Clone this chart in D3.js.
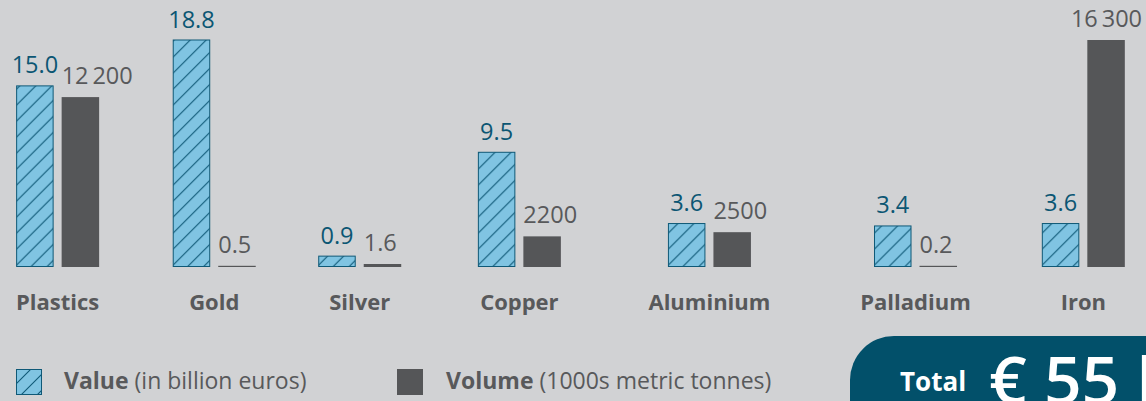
<!DOCTYPE html>
<html>
<head>
<meta charset="utf-8">
<script src="https://d3js.org/d3.v7.min.js"></script>
<style>
  html, body { margin: 0; padding: 0; background: #d1d2d4; }
  svg { display: block; font-family: "Open Sans", Lato, sans-serif; }
</style>
</head>
<body>
<svg id="chart" width="1146" height="401"></svg>
<script>
// Chart data
const categories = ['Plastics', 'Gold', 'Silver', 'Copper', 'Aluminium', 'Palladium', 'Iron'];
const valueBn = [15.0, 18.8, 0.9, 9.5, 3.6, 3.4, 3.6];          // billion euros
const volumeKt = [12200, 0.5, 1.6, 2200, 2500, 0.2, 16300];     // 1000s metric tonnes
const totalLabel = '€ 55 billion';

const W = 1146, H = 401;
const baseY = 267, topY = 40;
const colors = {
  bg: '#d1d2d4',
  valueFill: '#80c4e2',
  valueStroke: '#0f5977',
  valueText: '#0b5673',
  volume: '#555658',
  text: '#58595b',
  box: '#02506a'
};

const svg = d3.select('#chart');
svg.append('rect').attr('width', W).attr('height', H).attr('fill', colors.bg);

// hatch pattern for value bars
const defs = svg.append('defs');
const pat = defs.append('pattern')
  .attr('id', 'hatch')
  .attr('patternUnits', 'userSpaceOnUse')
  .attr('width', 16).attr('height', 16);
pat.append('rect').attr('width', 16).attr('height', 16).attr('fill', colors.valueFill);
pat.append('path')
  .attr('d', 'M-4,4 L4,-4 M0,16 L16,0 M12,20 L20,12')
  .attr('stroke', colors.valueStroke).attr('stroke-width', 1.1);

// scales (each series has its own, both topping out at the same height)
const yVal = d3.scaleLinear().domain([0, d3.max(valueBn)]).range([baseY, topY]);
const yVol = d3.scaleLinear().domain([0, d3.max(volumeKt)]).range([baseY, topY]);

// category labels: measured, laid out with equal gaps between them
const catG = svg.append('g');
const catText = catG.selectAll('text').data(categories).enter().append('text')
  .text(d => d)
  .attr('y', 310)
  .attr('fill', colors.text)
  .attr('font-size', 22)
  .attr('font-weight', 700);
const widths = [];
catText.each(function() { widths.push(this.getComputedTextLength()); });
const spanL = 16, spanR = 1106;
const gap = (spanR - spanL - d3.sum(widths)) / (categories.length - 1);
const centers = [];
let cx = spanL;
widths.forEach(w => { centers.push(cx + w / 2); cx += w + gap; });
catText.attr('x', (d, i) => centers[i]).attr('text-anchor', 'middle');

const inner = d3.scaleBand().domain(['value', 'volume']).range([-41.5, 41.5]).paddingInner(0.176);
const bw = inner.bandwidth();

const fmtVal = d3.format('.1f');
const fmtVol = v => v < 10 ? d3.format('.1f')(v) : (v >= 10000 ? d3.format(',')(v).replace(/,/g, '\u2009') : String(v));

const groups = svg.append('g').selectAll('g').data(categories).enter().append('g')
  .attr('transform', (d, i) => `translate(${centers[i]},0)`);

// value bars
groups.append('rect')
  .attr('x', inner('value') + 0.5)
  .attr('y', (d, i) => yVal(valueBn[i]))
  .attr('width', bw - 1)
  .attr('height', (d, i) => baseY - yVal(valueBn[i]) - 0.5)
  .attr('fill', 'url(#hatch)')
  .attr('stroke', colors.valueStroke)
  .attr('stroke-width', 1);

groups.append('text')
  .attr('x', inner('value') + bw / 2)
  .attr('y', (d, i) => yVal(valueBn[i]) - 12.5)
  .attr('text-anchor', 'middle')
  .attr('fill', colors.valueText)
  .attr('font-size', 23.5)
  .text((d, i) => fmtVal(valueBn[i]));

// volume bars (tiny values still get a visible sliver)
const volH = v => Math.max(baseY - yVol(v), v >= 1 ? 3 : 1.2);
groups.append('rect')
  .attr('x', inner('volume'))
  .attr('y', (d, i) => baseY - volH(volumeKt[i]))
  .attr('width', bw)
  .attr('height', (d, i) => volH(volumeKt[i]))
  .attr('fill', colors.volume);

groups.append('text')
  .attr('y', (d, i) => baseY - volH(volumeKt[i]) - 13)
  .attr('fill', colors.text)
  .attr('font-size', 23.5)
  .text((d, i) => fmtVol(volumeKt[i]))
  .attr('x', function(d, i) {
    const x0 = inner('volume');
    const w = this.getComputedTextLength();
    const over = centers[i] + x0 + w - (W - 4);
    return over > 0 ? x0 - over : x0;
  });

// legend
const leg = svg.append('g');
leg.append('rect').attr('x', 16.5).attr('y', 369.5).attr('width', 25).attr('height', 25)
  .attr('fill', 'url(#hatch)').attr('stroke', colors.valueStroke);
const t1 = leg.append('text').attr('x', 64).attr('y', 389).attr('font-size', 23).attr('fill', colors.text);
t1.append('tspan').attr('font-weight', 700).text('Value');
t1.append('tspan').text(' (in billion euros)');

leg.append('rect').attr('x', 397).attr('y', 369).attr('width', 26).attr('height', 26).attr('fill', colors.volume);
const t2 = leg.append('text').attr('x', 446).attr('y', 389).attr('font-size', 23).attr('fill', colors.text);
t2.append('tspan').attr('font-weight', 700).text('Volume');
t2.append('tspan').text(' (1000s metric tonnes)');

// total box (its big figure runs off the edge, as in the original)
const box = svg.append('g');
box.append('rect').attr('x', 850).attr('y', 336).attr('width', 420).attr('height', 140).attr('rx', 44)
  .attr('fill', colors.box);
box.append('text').attr('x', 900).attr('y', 391).attr('font-size', 26).attr('font-weight', 700)
  .attr('fill', '#fff').text('Total');
box.append('text').attr('x', 989).attr('y', 404).attr('font-size', 66).attr('font-weight', 600)
  .attr('fill', '#fff').text(totalLabel);
</script>
</body>
</html>
